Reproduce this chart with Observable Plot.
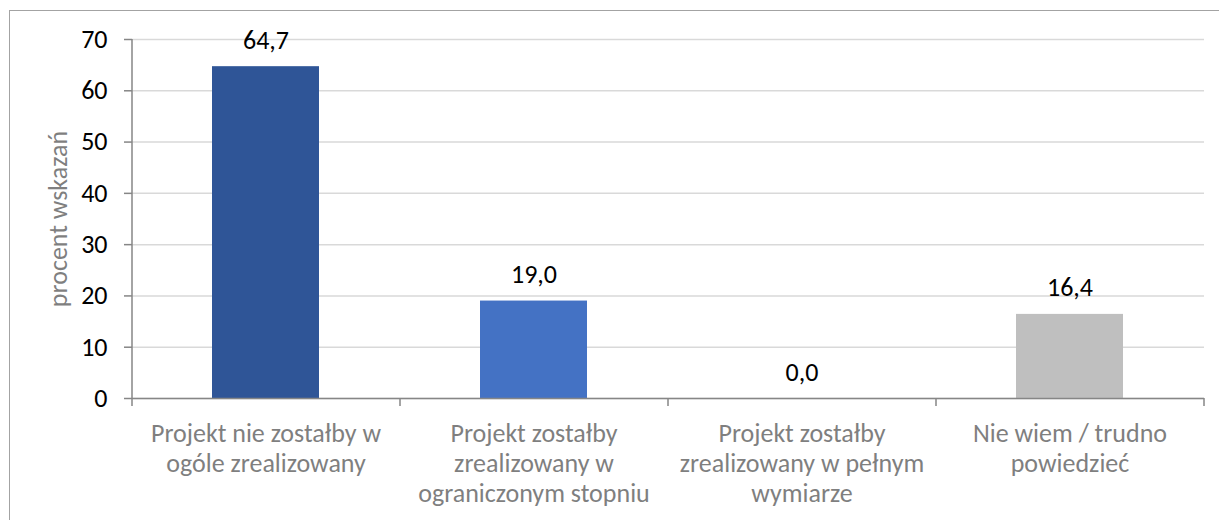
<!DOCTYPE html>
<html>
<head>
<meta charset="utf-8">
<script src="https://cdn.jsdelivr.net/npm/d3@7"></script>
<script src="https://cdn.jsdelivr.net/npm/@observablehq/plot@0.6"></script>
<style>
  html, body { margin: 0; padding: 0; background: #fff; overflow: hidden; }
  #wrap { position: relative; width: 1219px; height: 520px; overflow: hidden; }
  #frame { position: absolute; left: 9px; top: 10px; width: 1300px; height: 600px; border: 1.5px solid #a3a3a3; box-sizing: border-box; }
  #chart { position: absolute; left: 0; top: 0; }
</style>
</head>
<body>
<div id="wrap"><div id="frame"></div><div id="chart"></div></div>
<script>
const categories = [
  "Projekt nie zostałby w\nogóle zrealizowany",
  "Projekt zostałby\nzrealizowany w\nograniczonym stopniu",
  "Projekt zostałby\nzrealizowany w pełnym\nwymiarze",
  "Nie wiem / trudno\npowiedzieć"
];
const values = [64.7, 19.0, 0.0, 16.4];
const barColors = ["#2f5597", "#4472c4", "#a5a5a5", "#bfbfbf"];
const yTicks = [0, 10, 20, 30, 40, 50, 60, 70];
const yLabel = "procent wskazań";

const data = categories.map((c, i) => ({cat: c, value: values[i]}));

const W = 1219, H = 520;
const mL = 132, mR = 15, mT = 39, mB = 122;
const step = (W - mL - mR) / categories.length;
const font = "Carlito, Calibri, Lato, sans-serif";
const fmt = v => v.toFixed(1).replace(".", ",");

const chart = Plot.plot({
  width: W, height: H,
  marginLeft: mL, marginRight: mR, marginTop: mT, marginBottom: mB,
  style: {fontFamily: font, background: "transparent", overflow: "visible"},
  x: {domain: categories, paddingInner: 0.6, paddingOuter: 0.3, axis: null},
  y: {domain: [0, 70], axis: null},
  color: {domain: categories, range: barColors},
  marks: [
    Plot.gridY(yTicks, {stroke: "#d9d9d9", strokeOpacity: 1, strokeWidth: 1.5}),
    Plot.barY(data, {x: "cat", y: "value", fill: "cat"}),
    Plot.ruleY([0], {stroke: "#868686", strokeWidth: 1.5}),
    Plot.ruleX([categories[0]], {dx: -step / 2, stroke: "#868686", strokeWidth: 1.5}),
    Plot.axisY({ticks: yTicks, tickSize: 8, text: null, label: null, stroke: "#868686", strokeWidth: 1.5}),
    Plot.axisY({ticks: yTicks, tickSize: 0, tickPadding: 25, label: null, fill: "#000", fontSize: 26}),
    Plot.axisX({ticks: categories, tickSize: 8, text: null, label: null, dx: -step / 2, stroke: "#868686", strokeWidth: 1.5}),
    Plot.axisX({ticks: [categories[categories.length - 1]], tickSize: 8, text: null, label: null, dx: step / 2, stroke: "#868686", strokeWidth: 1.5}),
    Plot.text(data, {x: "cat", y: "value", text: d => fmt(d.value), dy: -18, lineAnchor: "bottom", fill: "#000", fontSize: 26}),
    Plot.text(data, {x: "cat", frameAnchor: "bottom", text: "cat", lineAnchor: "top", dy: 22, lineHeight: 1.16, fill: "#7f7f7f", fontSize: 26}),
    Plot.text([yLabel], {frameAnchor: "left", textAnchor: "middle", dx: -74, rotate: -90, fill: "#7f7f7f", fontSize: 26})
  ]
});
document.getElementById("chart").appendChild(chart);
</script>
</body>
</html>
